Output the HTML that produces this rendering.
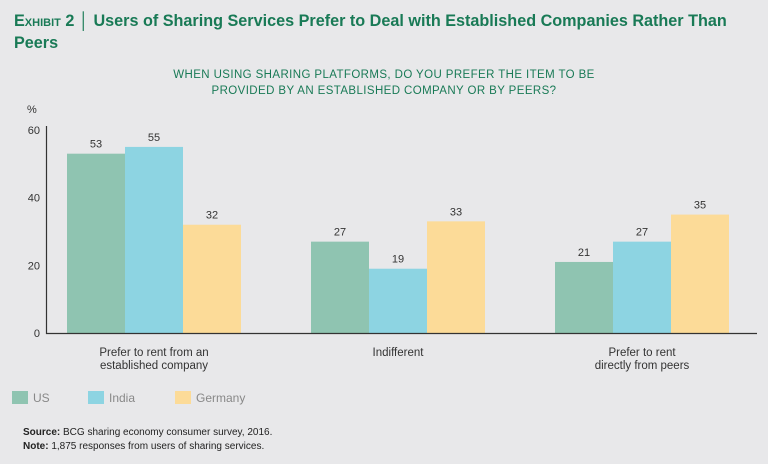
<!DOCTYPE html>
<html><head><meta charset="utf-8"><style>
body{margin:0;width:768px;height:464px;background:#e8e8ea;font-family:"Liberation Sans",sans-serif;overflow:hidden;position:relative}
.t{position:absolute;left:14px;top:10px;font-size:16.2px;font-weight:bold;color:#197a56;line-height:22px;width:740px}
.sub{position:absolute;left:0;width:768px;top:67px;text-align:center;color:#197a56;font-size:11.5px;letter-spacing:.4px;line-height:16px}
.src{position:absolute;left:23px;top:426px;font-size:10px;color:#222;line-height:14px}
</style></head><body>
<div class="t"><span style="font-variant:small-caps">Exhibit 2</span> │ Users of Sharing Services Prefer to Deal with Established Companies Rather Than Peers</div>
<div class="sub">WHEN USING SHARING PLATFORMS, DO YOU PREFER THE ITEM TO BE<br>PROVIDED BY AN ESTABLISHED COMPANY OR BY PEERS?</div>
<svg id="c" width="768" height="464" style="position:absolute;left:0;top:0"></svg>
<div class="src"><b>Source:</b> BCG sharing economy consumer survey, 2016.<br><b>Note:</b> 1,875 responses from users of sharing services.</div>
<script>
const categories=[["Prefer to rent from an","established company"],["Indifferent"],["Prefer to rent","directly from peers"]];
const seriesNames=["US","India","Germany"];
const usValues=[53,27,21];
const indiaValues=[55,19,27];
const germanyValues=[32,33,35];
const yTicks=[0,20,40,60];
const colors=["#8fc4b1","#8dd4e2","#fcdb98"];
const series=[usValues,indiaValues,germanyValues];
const svg=document.getElementById('c');const NS="http://www.w3.org/2000/svg";
function mk(t,a,txt){const e=document.createElementNS(NS,t);for(const k in a)e.setAttribute(k,a[k]);if(txt!=null)e.textContent=txt;svg.appendChild(e);return e;}
const y0=333,y1=130,yMax=60;
const y=v=>y0-(v/yMax)*(y0-y1);
const gStart=67,gStep=244,bw=58;
const x=(ci,si)=>gStart+ci*gStep+si*bw;
yTicks.forEach(t=>{const e=mk('text',{x:40,y:y(t)+4,'text-anchor':'end','font-size':11,fill:'#333'},t);

});
const pct=mk('text',{x:27,y:113,'font-size':11,fill:'#333'},'%');


categories.forEach((c,ci)=>{
 series.forEach((s,si)=>{
  const r=mk('rect',{x:x(ci,si),y:y(s[ci]),width:bw,height:y0-y(s[ci]),fill:colors[si]});
  
  
  const l=mk('text',{x:x(ci,si)+bw/2,y:y(s[ci])-6,'text-anchor':'middle','font-size':11,fill:'#333'},s[ci]);
  
  
 });
 c.forEach((ln,li)=>{const t=mk('text',{x:x(ci,0)+bw*1.5,y:356+li*13,'text-anchor':'middle','font-size':11.5,fill:'#333'},ln);
 
 });
});
const ax=mk('path',{d:`M46.5 ${y1-4}V${y0+0.5}H757`,stroke:'#333','stroke-width':1.2,fill:'none'});


const lx=[12,88,175];
seriesNames.forEach((n,i)=>{
 const r=mk('rect',{x:lx[i],y:391,width:16,height:13,fill:colors[i]});
 
 
 const t=mk('text',{x:lx[i]+21,y:402,'font-size':12,fill:'#888'},n);
 
 
});
</script>
</body></html>
